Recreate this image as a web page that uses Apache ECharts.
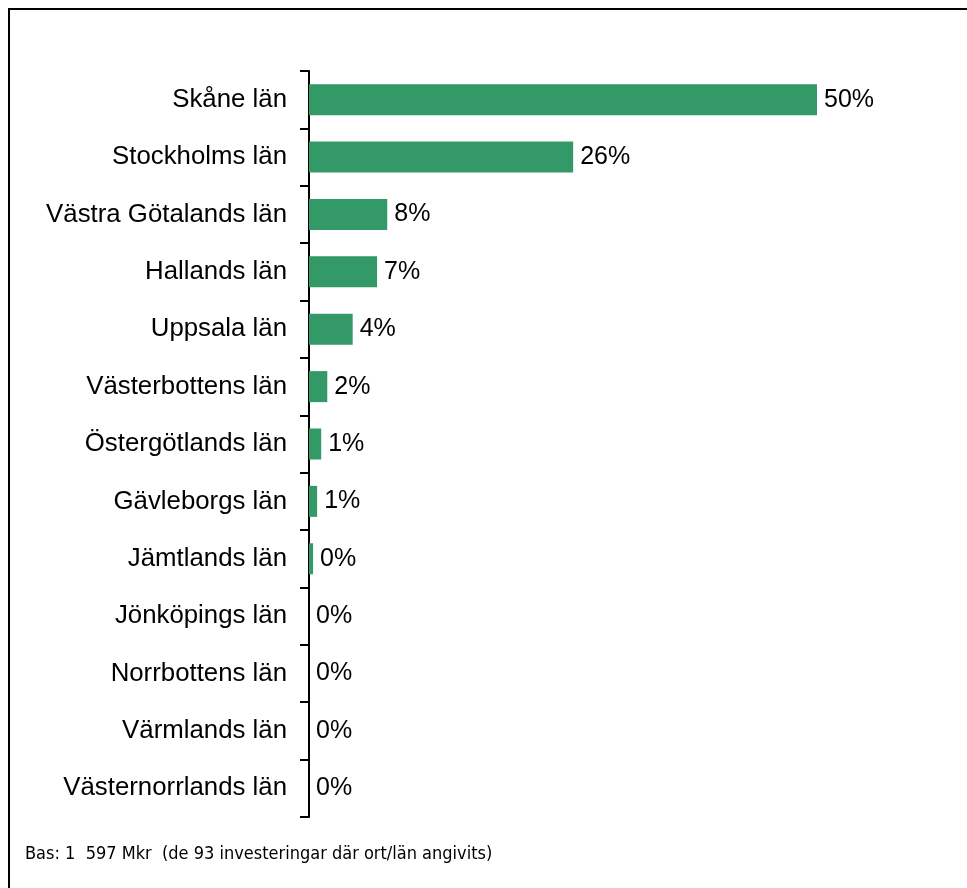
<!DOCTYPE html>
<html>
<head>
<meta charset="utf-8">
<script src="https://cdn.jsdelivr.net/npm/echarts@6/dist/echarts.min.js"></script>
<style>
  html, body { margin: 0; padding: 0; background: #fff; }
  #chart { width: 967px; height: 888px; }
</style>
</head>
<body>
<div id="chart"></div>
<script>
// Share of invested amount per county (län), in percent
const counties = [
  'Skåne län', 'Stockholms län', 'Västra Götalands län', 'Hallands län',
  'Uppsala län', 'Västerbottens län', 'Östergötlands län', 'Gävleborgs län',
  'Jämtlands län', 'Jönköpings län', 'Norrbottens län', 'Värmlands län',
  'Västernorrlands län'
];
const shares = [50, 26, 7.7, 6.7, 4.3, 1.8, 1.2, 0.8, 0.4, 0, 0, 0, 0];
const footnote = 'Bas: 1  597 Mkr  (de 93 investeringar där ort/län angivits)';

const chart = echarts.init(document.getElementById('chart'));
chart.setOption({
  animation: false,
  backgroundColor: '#fff',
  textStyle: { fontFamily: 'Liberation Sans, Arial, sans-serif' },
  title: {
    text: footnote,
    left: 20,
    top: 840,
    textStyle: {
      fontFamily: '"Liberation Sans Narrow", "Arial Narrow", "DejaVu Sans Condensed", sans-serif',
      fontSize: 18,
      fontWeight: 'normal',
      color: '#000'
    }
  },
  graphic: [{
    type: 'polyline',
    shape: { points: [[9, 888], [9, 9], [967, 9]] },
    style: { stroke: '#000', lineWidth: 2, fill: null }
  }],
  grid: { left: 309, right: 48.4, top: 71, bottom: 71 },
  xAxis: {
    type: 'value',
    min: 0,
    max: 60,
    show: false
  },
  yAxis: {
    type: 'category',
    inverse: true,
    data: counties,
    axisLine: { show: true, lineStyle: { color: '#000', width: 2 } },
    axisTick: { show: true, length: 9, lineStyle: { color: '#000', width: 2 } },
    axisLabel: { margin: 22, fontSize: 25.8, color: '#000', fontFamily: 'Liberation Sans, Arial, sans-serif' },
    splitLine: { show: false }
  },
  series: [{
    type: 'bar',
    data: shares,
    barWidth: 31,
    itemStyle: { color: '#339966' },
    label: {
      show: true,
      position: 'right',
      distance: 7,
      fontSize: 25,
      color: '#000',
      fontFamily: 'Liberation Sans, Arial, sans-serif',
      formatter: p => Math.round(p.value) + '%'
    }
  }]
});
</script>
</body>
</html>
